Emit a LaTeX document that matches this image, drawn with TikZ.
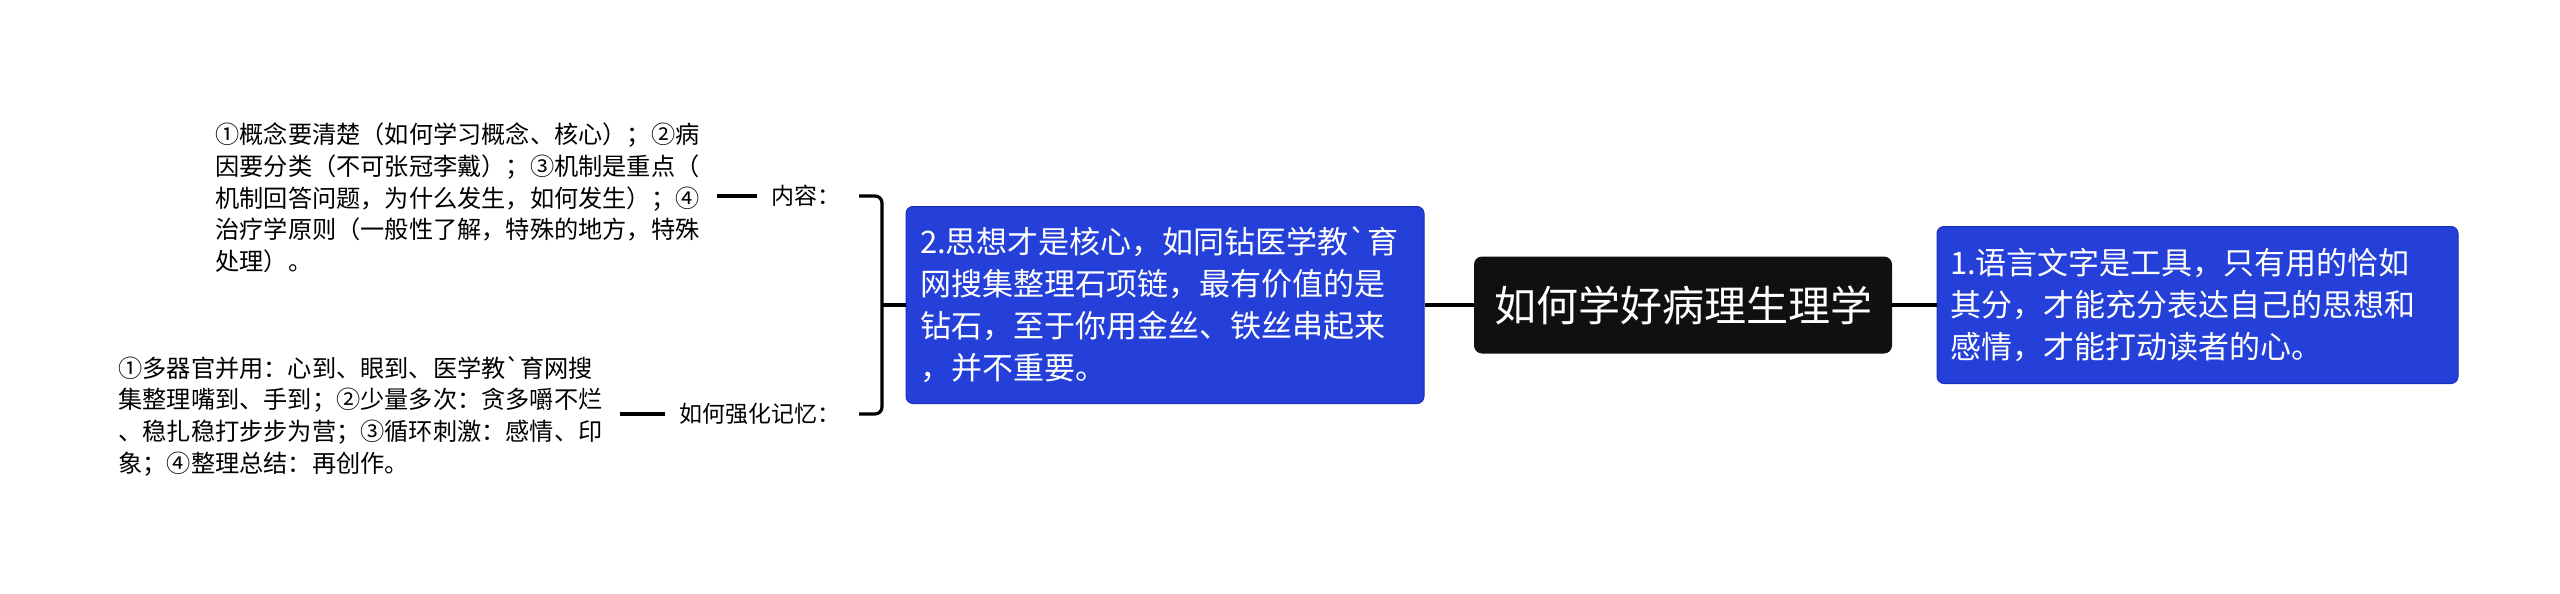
\documentclass[tikz,border=0pt]{standalone}
\usepackage{fontspec}
\setmainfont{Noto Sans CJK SC}
\usetikzlibrary{positioning,calc}
\definecolor{topicblue}{RGB}{36,64,216}
\definecolor{topicedge}{RGB}{26,48,180}
\definecolor{rootblack}{RGB}{16,16,16}
% plain grave accent, without the TeX ligature mapping
\font\grvL="Noto Sans CJK SC" at 15.5pt
\font\grvS="Noto Sans CJK SC" at 12.1pt

\begin{document}
\begin{tikzpicture}[x=0.5pt, y=-0.5pt,
    link/.style={line width=1.6pt, black},
    leaf/.style={shorten <=7pt, shorten >=5.5pt},
    rootbox/.style={fill=rootblack, rounded corners=4pt, text=white, inner sep=0pt,
        minimum width=209pt, minimum height=48.5pt, font=\fontsize{21}{26}\selectfont},
    topic/.style={fill=topicblue, draw=topicedge, line width=0.5pt, rounded corners=3.5pt,
        text=white, align=left, inner xsep=7pt, inner ysep=0pt,
        font=\fontsize{15.5}{21}\selectfont},
    label/.style={inner sep=0pt, anchor=east, font=\fontsize{11.5}{14}\selectfont},
    note/.style={inner sep=0pt, anchor=west, align=left, text width=245pt,
        font=\fontsize{12.1}{15.85}\selectfont}]
%
    \useasboundingbox (0,0) rectangle (2560,594);
%
    \node[rootbox] (root) at (1683, 305) {如何学好病理生理学};
    \node[topic, text width=247.5pt, inner xsep=6.5pt, minimum height=78.5pt] (nR) at (2197.5, 305)
        {1.语言文字是工具，只有用的恰如\\其分，才能充分表达自己的思想和\\感情，才能打动读者的心。};
    \node[topic, text width=245pt, minimum height=98.5pt] (nL) at (1165, 305)
        {2.思想才是核心，如同钻医学教{\grvL\char96}育\\网搜集整理石项链，最有价值的是\\钻石，至于你用金丝、铁丝串起来\\，并不重要。};
%
    \draw[link] (root.east) -- (nR.west);
    \draw[link] (root.west) -- (nL.east);
%
    % labels on the bracket
    \node[label] (lbA) at (841, 196) {内容：};
    \node[label] (lbB) at (841, 414) {如何强化记忆：};
    \coordinate (brA) at ([xshift=9pt]lbA.east);
    \coordinate (brB) at ([xshift=9pt]lbB.east);
    \coordinate (brM) at (882, 305);
    \draw[link, rounded corners=3.5pt] (brA) -| (brM) |- (brB);
    \draw[link] (brM) -- (nL.west);
%
    \node[note] (txA) at (215, 198)
        {①概念要清楚（如何学习概念、核心）；②病\\因要分类（不可张冠李戴）；③机制是重点（\\机制回答问题，为什么发生，如何发生）；④\\治疗学原则（一般性了解，特殊的地方，特殊\\处理）。};
    \node[note] (txB) at (118, 416)
        {①多器官并用：心到、眼到、医学教{\grvS\char96}育网搜\\集整理嘴到、手到；②少量多次：贪多嚼不烂\\、稳扎稳打步步为营；③循环刺激：感情、印\\象；④整理总结：再创作。};
%
    \draw[link, leaf] (lbA.west) -- (lbA.west -| txA.east);
    \draw[link, leaf] (lbB.west) -- (lbB.west -| txB.east);
\end{tikzpicture}
\end{document}
